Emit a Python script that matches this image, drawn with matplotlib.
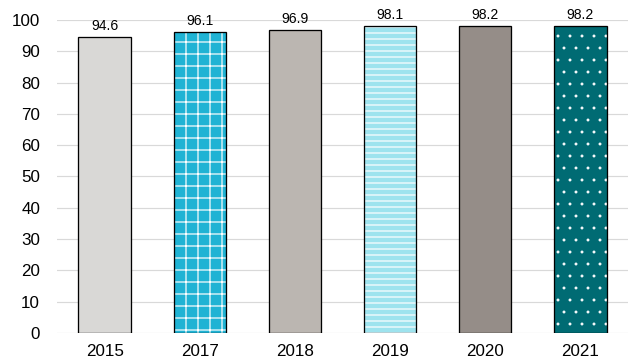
import matplotlib
matplotlib.use("Agg")
import matplotlib.pyplot as plt

years = ["2015", "2017", "2018", "2019", "2020", "2021"]
values = [94.6, 96.1, 96.9, 98.1, 98.2, 98.2]
colors = ["#D9D8D6", "#1FB3D4", "#BBB6B1", "#9EE3EE", "#958D88", "#006B73"]
hatches = ["", "+", "", "--", "", "."]
hatch_lw = [1.2, 1.2, 1.2, 1.2, 1.2, 0.4]

plt.rcParams['font.family'] = ['Liberation Sans', 'DejaVu Sans']

DPI = 72
fig = plt.figure(figsize=(632 / DPI, 361 / DPI), dpi=DPI)
ax = fig.add_axes([57 / 632, 1 - 333 / 361, 571 / 632, 313 / 361])

x = list(range(len(years)))
w = 0.55
for xi, v, c, h, hl in zip(x, values, colors, hatches, hatch_lw):
    with plt.rc_context({'hatch.linewidth': hl}):
        ax.bar(xi, v, width=w, color=c, hatch=h, edgecolor="white", linewidth=0, zorder=2)
    ax.bar(xi, v, width=w, facecolor="none", edgecolor="black", linewidth=1.3, zorder=3)
    ax.text(xi, v + 1.2, f"{v:.1f}", ha="center", va="bottom", fontsize=14)

ax.set_xlim(-0.5, len(years) - 0.5)
ax.set_ylim(0, 100)
ax.set_yticks(range(0, 101, 10))
ax.set_xticks(x)
ax.set_xticklabels(years)
ax.tick_params(axis="both", length=0, labelsize=17)
ax.tick_params(axis="y", pad=17)
ax.tick_params(axis="x", pad=11)
ax.yaxis.grid(True, color="#D9D9D9", linewidth=1.2, zorder=0)
ax.set_axisbelow(True)
for s in ax.spines.values():
    s.set_visible(False)

fig.savefig("out.png", dpi=DPI)
